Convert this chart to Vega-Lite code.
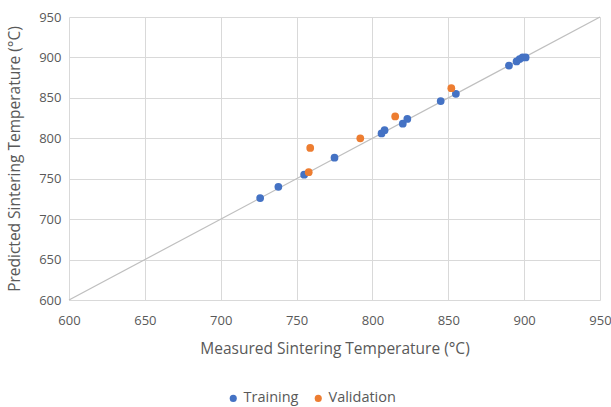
{
  "$schema": "https://vega.github.io/schema/vega-lite/v6.json",
  "width": 531,
  "height": 283,
  "autosize": {"type": "none"},
  "padding": {"left": 69, "top": 17, "right": 11, "bottom": 107},
  "background": "white",
  "config": {
    "view": {"stroke": null},
    "font": "Open Sans",
    "axis": {
      "labelFont": "Open Sans",
      "titleFont": "Open Sans",
      "labelColor": "#595959",
      "titleColor": "#595959",
      "labelFontSize": 13,
      "titleFontSize": 15.5,
      "titleFontWeight": "normal",
      "gridColor": "#d9d9d9",
      "gridWidth": 1,
      "domain": false,
      "ticks": false,
      "labelFlush": false
    }
  },
  "layer": [
    {
      "data": {"values": [{"m": 600, "p": 600}, {"m": 950, "p": 950}]},
      "mark": {"type": "line", "color": "#bfbfbf", "strokeWidth": 1.2},
      "encoding": {
        "x": {"field": "m", "type": "quantitative"},
        "y": {"field": "p", "type": "quantitative"}
      }
    },
    {
      "data": {"values": [
        {"m": 726, "p": 726, "set": "Training"},
        {"m": 738, "p": 740, "set": "Training"},
        {"m": 755, "p": 755, "set": "Training"},
        {"m": 775, "p": 776, "set": "Training"},
        {"m": 806, "p": 806, "set": "Training"},
        {"m": 808, "p": 810, "set": "Training"},
        {"m": 820, "p": 818, "set": "Training"},
        {"m": 823, "p": 824, "set": "Training"},
        {"m": 845, "p": 846, "set": "Training"},
        {"m": 855, "p": 855, "set": "Training"},
        {"m": 890, "p": 890, "set": "Training"},
        {"m": 895, "p": 895, "set": "Training"},
        {"m": 897, "p": 898, "set": "Training"},
        {"m": 899, "p": 900, "set": "Training"},
        {"m": 901, "p": 900, "set": "Training"},
        {"m": 759, "p": 788, "set": "Validation"},
        {"m": 758, "p": 758, "set": "Validation"},
        {"m": 792, "p": 800, "set": "Validation"},
        {"m": 815, "p": 827, "set": "Validation"},
        {"m": 852, "p": 862, "set": "Validation"}
      ]},
      "mark": {"type": "circle", "size": 60, "opacity": 1},
      "encoding": {
        "x": {"field": "m", "type": "quantitative", "title": "Measured Sintering Temperature (°C)",
              "scale": {"domain": [600, 950], "nice": false, "zero": false},
              "axis": {"values": [600, 650, 700, 750, 800, 850, 900, 950], "labelPadding": 14, "titlePadding": 14}},
        "y": {"field": "p", "type": "quantitative", "title": "Predicted Sintering Temperature (°C)",
              "scale": {"domain": [600, 950], "nice": false, "zero": false},
              "axis": {"values": [600, 650, 700, 750, 800, 850, 900, 950], "labelPadding": 8, "titlePadding": 16}},
        "color": {"field": "set", "type": "nominal",
                  "scale": {"domain": ["Training", "Validation"], "range": ["#4472c4", "#ed7d31"]},
                  "legend": {"title": null, "orient": "none", "direction": "horizontal",
                             "legendX": 157, "legendY": 374, "labelFontSize": 14.5, "labelColor": "#595959",
                             "symbolType": "circle", "symbolSize": 50, "columnPadding": 12, "labelOffset": 3}}
      }
    }
  ]
}
